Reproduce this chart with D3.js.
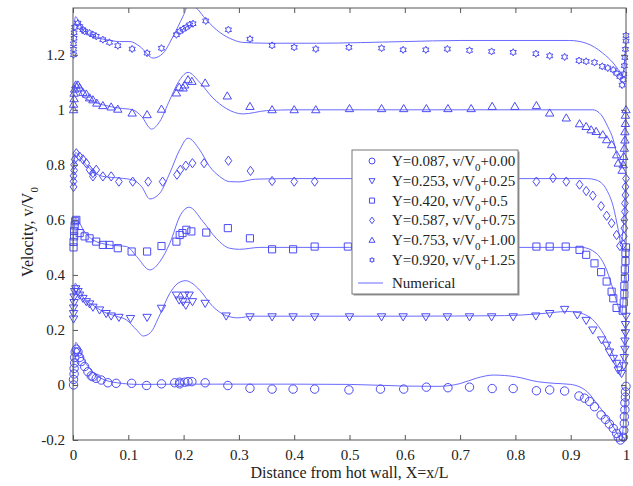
<!DOCTYPE html>
<html>
<head>
<meta charset="utf-8">
<title>Velocity profiles</title>
<style>
  body { margin: 0; background: #fff; }
  text { font-family: "Liberation Serif", "Times New Roman", serif; fill: #222; }
</style>
</head>
<body>
<div id="chart"></div>
<script src="https://d3js.org/d3.v7.min.js"></script>
<script>
// ---- data (values as plotted, offsets already included) ----
var xTicks = [0, 0.1, 0.2, 0.3, 0.4, 0.5, 0.6, 0.7, 0.8, 0.9, 1];
var xTickLabels = ["0", "0.1", "0.2", "0.3", "0.4", "0.5", "0.6", "0.7", "0.8", "0.9", "1"];
var yTicks = [-0.2, 0, 0.2, 0.4, 0.6, 0.8, 1, 1.2];
var yTickLabels = ["-0.2", "0", "0.2", "0.4", "0.6", "0.8", "1", "1.2"];

var stations = ["0.087", "0.253", "0.420", "0.587", "0.753", "0.920"];
var offsets = ["+0.00", "+0.25", "+0.5", "+0.75", "+1.00", "+1.25"];
var markers = ["circle", "triDown", "square", "diamond", "triUp", "hexagram"];

// experimental points
var exp087 = [[0.001,0.0],[0.001,0.02],[0.002,0.04],[0.002,0.06],[0.003,0.08],[0.003,0.1],[0.004,0.12],[0.006,0.13],
  [0.009,0.12],[0.012,0.10],[0.015,0.085],[0.021,0.067],[0.027,0.048],[0.033,0.033],[0.036,0.03],[0.042,0.024],
  [0.051,0.018],[0.063,0.008],[0.078,0.006],[0.106,0.006],[0.133,-0.002],[0.16,0.004],[0.184,0.008],[0.193,0.004],
  [0.193,0.01],[0.202,0.01],[0.208,0.012],[0.215,0.012],[0.239,0.008],[0.28,-0.002],[0.32,-0.012],[0.36,-0.015],
  [0.398,-0.015],[0.437,-0.015],[0.499,-0.018],[0.556,-0.015],[0.598,-0.015],[0.639,-0.008],[0.678,-0.01],
  [0.717,-0.008],[0.758,-0.013],[0.796,-0.013],[0.838,-0.021],[0.862,-0.018],[0.889,-0.022],[0.915,-0.04],
  [0.925,-0.048],[0.934,-0.06],[0.943,-0.079],[0.955,-0.109],[0.963,-0.125],[0.97,-0.142],[0.977,-0.158],
  [0.983,-0.176],[0.986,-0.19],[0.99,-0.2],[0.995,-0.19],[0.996,-0.165],[0.997,-0.14],[0.997,-0.115],
  [0.998,-0.09],[0.998,-0.065],[0.999,-0.044],[0.999,-0.025],[1,-0.005]];
var exp253 = [[0.001,0.24],[0.001,0.26],[0.001,0.28],[0.002,0.30],[0.002,0.32],[0.003,0.34],[0.005,0.35],
  [0.009,0.34],[0.012,0.327],[0.018,0.315],[0.024,0.303],[0.03,0.295],[0.036,0.283],[0.048,0.273],[0.06,0.26],
  [0.069,0.251],[0.083,0.246],[0.104,0.242],[0.134,0.246],[0.16,0.279],[0.187,0.327],[0.192,0.309],[0.199,0.303],
  [0.202,0.327],[0.204,0.29],[0.21,0.327],[0.216,0.303],[0.239,0.297],[0.277,0.251],[0.32,0.248],[0.36,0.248],
  [0.398,0.248],[0.437,0.248],[0.5,0.248],[0.558,0.248],[0.597,0.248],[0.638,0.248],[0.677,0.248],[0.717,0.248],
  [0.757,0.248],[0.796,0.248],[0.837,0.251],[0.862,0.26],[0.889,0.275],[0.912,0.255],[0.928,0.235],[0.94,0.2],
  [0.956,0.164],[0.965,0.145],[0.97,0.12],[0.977,0.097],[0.983,0.079],[0.986,0.055],[0.992,0.042],
  [0.996,0.07],[0.997,0.1],[0.998,0.13],[0.998,0.16],[0.999,0.19],[0.999,0.22],[1,0.25]];
var exp420 = [[0.001,0.5],[0.001,0.52],[0.002,0.54],[0.002,0.56],[0.003,0.58],[0.004,0.595],[0.006,0.6],
  [0.012,0.552],[0.021,0.54],[0.03,0.533],[0.042,0.521],[0.054,0.509],[0.066,0.509],[0.081,0.497],[0.106,0.485],
  [0.134,0.485],[0.16,0.505],[0.187,0.521],[0.193,0.545],[0.198,0.552],[0.205,0.564],[0.214,0.558],[0.241,0.554],
  [0.28,0.57],[0.32,0.533],[0.36,0.493],[0.398,0.493],[0.437,0.503],[0.497,0.503],[0.838,0.503],[0.862,0.503],
  [0.891,0.503],[0.916,0.491],[0.928,0.473],[0.943,0.442],[0.955,0.41],[0.965,0.376],[0.974,0.339],[0.977,0.315],
  [0.983,0.28],[0.994,0.27],[0.996,0.3],[0.997,0.33],[0.997,0.36],[0.998,0.39],[0.998,0.42],[0.999,0.45],
  [0.999,0.48],[1,0.5]];
var exp587 = [[0.001,0.72],[0.001,0.74],[0.001,0.76],[0.002,0.78],[0.002,0.8],[0.003,0.82],[0.006,0.842],
  [0.012,0.83],[0.018,0.82],[0.024,0.806],[0.03,0.782],[0.036,0.77],[0.042,0.782],[0.036,0.758],[0.054,0.758],
  [0.069,0.758],[0.083,0.739],[0.108,0.739],[0.136,0.739],[0.162,0.739],[0.188,0.764],[0.194,0.782],[0.204,0.797],
  [0.216,0.806],[0.237,0.806],[0.281,0.815],[0.321,0.778],[0.36,0.741],[0.4,0.739],[0.437,0.739],[0.838,0.739],
  [0.868,0.752],[0.892,0.739],[0.916,0.728],[0.928,0.705],[0.94,0.688],[0.955,0.65],[0.965,0.615],[0.974,0.588],
  [0.983,0.545],[0.989,0.505],[0.995,0.51],[0.996,0.54],[0.997,0.57],[0.997,0.6],[0.998,0.63],[0.998,0.66],
  [0.999,0.69],[0.999,0.72],[1,0.75]];
var exp753 = [[0.001,1.0],[0.001,1.02],[0.002,1.04],[0.002,1.06],[0.003,1.075],[0.005,1.09],[0.009,1.09],
  [0.012,1.079],[0.018,1.063],[0.024,1.057],[0.03,1.043],[0.036,1.036],[0.043,1.024],[0.054,1.015],[0.069,1.01],
  [0.081,1.002],[0.107,0.988],[0.134,0.982],[0.16,1.002],[0.187,1.061],[0.192,1.082],[0.199,1.079],[0.202,1.09],
  [0.208,1.109],[0.215,1.103],[0.239,1.097],[0.279,1.05],[0.32,1.012],[0.36,1.0],[0.4,1.0],[0.439,1.0],
  [0.5,1.004],[0.558,1.004],[0.598,1.004],[0.639,1.004],[0.678,1.004],[0.72,1.004],[0.758,1.012],[0.799,1.012],
  [0.838,1.015],[0.862,0.988],[0.892,0.97],[0.916,0.949],[0.928,0.939],[0.937,0.927],[0.946,0.921],[0.958,0.909],
  [0.965,0.891],[0.974,0.873],[0.983,0.836],[0.986,0.806],[0.993,0.78],[0.995,0.8],[0.996,0.83],[0.997,0.86],
  [0.998,0.89],[0.998,0.92],[0.999,0.95],[0.999,0.98],[1,1.0]];
var exp920 = [[0.001,1.2],[0.001,1.22],[0.001,1.24],[0.002,1.26],[0.002,1.28],[0.003,1.3],[0.009,1.315],
  [0.012,1.303],[0.018,1.291],[0.021,1.285],[0.03,1.279],[0.036,1.273],[0.042,1.267],[0.054,1.255],[0.066,1.245],
  [0.081,1.233],[0.107,1.221],[0.134,1.206],[0.16,1.224],[0.187,1.273],[0.193,1.285],[0.199,1.293],[0.205,1.3],
  [0.211,1.309],[0.217,1.313],[0.24,1.323],[0.281,1.291],[0.32,1.257],[0.36,1.234],[0.4,1.227],[0.439,1.221],
  [0.499,1.227],[0.558,1.224],[0.597,1.218],[0.638,1.218],[0.677,1.221],[0.717,1.216],[0.757,1.212],[0.796,1.209],
  [0.837,1.204],[0.862,1.196],[0.889,1.192],[0.915,1.179],[0.928,1.176],[0.943,1.172],[0.957,1.158],[0.967,1.152],
  [0.977,1.145],[0.983,1.133],[0.989,1.121],[0.993,1.09],[0.995,1.11],[0.996,1.13],[0.997,1.16],[0.998,1.19],
  [0.999,1.22],[1,1.25],[1,1.27]];

// numerical solution
var num087 = [[0,0],[0.002,0.1],[0.005,0.155],[0.01,0.14],[0.02,0.09],[0.03,0.06],[0.05,0.025],[0.08,0.008],
  [0.12,0.002],[0.2,0.003],[0.3,0.003],[0.4,0.003],[0.5,0.002],[0.6,-0.004],[0.66,-0.005],[0.7,0.005],
  [0.73,0.025],[0.76,0.036],[0.8,0.03],[0.84,0.012],[0.87,0.006],[0.9,0.002],[0.93,-0.025],[0.95,-0.075],
  [0.97,-0.128],[0.985,-0.18],[0.992,-0.205],[0.996,-0.12],[1,0]];
var num253 = [[0,0.25],[0.002,0.33],[0.004,0.37],[0.008,0.36],[0.018,0.32],[0.036,0.29],[0.054,0.267],
  [0.078,0.25],[0.097,0.236],[0.115,0.2],[0.127,0.178],[0.14,0.19],[0.157,0.255],[0.175,0.333],[0.19,0.37],
  [0.204,0.379],[0.215,0.37],[0.229,0.345],[0.253,0.285],[0.277,0.252],[0.298,0.244],[0.325,0.25],[0.4,0.25],
  [0.6,0.25],[0.78,0.252],[0.84,0.258],[0.895,0.267],[0.92,0.26],[0.946,0.224],[0.965,0.164],[0.98,0.09],
  [0.989,0.036],[0.995,0.1],[1,0.25]];
var num420 = [[0,0.5],[0.002,0.57],[0.004,0.605],[0.008,0.6],[0.02,0.56],[0.036,0.527],[0.066,0.509],
  [0.097,0.503],[0.115,0.467],[0.139,0.418],[0.157,0.448],[0.175,0.515],[0.195,0.62],[0.21,0.646],[0.235,0.594],
  [0.259,0.533],[0.283,0.497],[0.301,0.493],[0.338,0.5],[0.5,0.5],[0.92,0.5],[0.946,0.479],[0.965,0.418],
  [0.977,0.345],[0.986,0.285],[0.992,0.26],[0.996,0.35],[1,0.5]];
var num587 = [[0,0.75],[0.002,0.81],[0.005,0.845],[0.01,0.835],[0.024,0.8],[0.036,0.776],[0.054,0.758],
  [0.084,0.752],[0.108,0.745],[0.124,0.721],[0.139,0.676],[0.157,0.697],[0.175,0.77],[0.193,0.855],[0.208,0.897],
  [0.229,0.855],[0.247,0.794],[0.265,0.758],[0.283,0.739],[0.3,0.738],[0.33,0.748],[0.4,0.75],[0.93,0.75],
  [0.946,0.745],[0.965,0.709],[0.977,0.648],[0.986,0.564],[0.991,0.515],[0.996,0.6],[1,0.75]];
var num753 = [[0,1.0],[0.002,1.07],[0.005,1.097],[0.01,1.085],[0.018,1.048],[0.036,1.03],[0.054,1.018],
  [0.084,1.006],[0.108,1.0],[0.124,0.976],[0.142,0.93],[0.157,0.958],[0.175,1.036],[0.193,1.109],[0.208,1.136],
  [0.229,1.1],[0.253,1.043],[0.277,1.005],[0.307,0.985],[0.35,0.997],[0.4,1.0],[0.94,1.0],[0.955,0.982],
  [0.967,0.939],[0.977,0.891],[0.983,0.842],[0.989,0.806],[0.993,0.79],[0.997,0.88],[1,1.0]];
var num920 = [[0,1.25],[0.002,1.31],[0.005,1.339],[0.01,1.32],[0.018,1.291],[0.036,1.267],[0.06,1.255],
  [0.084,1.248],[0.103,1.248],[0.121,1.23],[0.145,1.188],[0.163,1.206],[0.181,1.267],[0.199,1.34],[0.21,1.385],
  [0.222,1.372],[0.241,1.327],[0.265,1.282],[0.289,1.255],[0.307,1.245],[0.35,1.242],[0.44,1.242],[0.6,1.248],
  [0.7,1.252],[0.898,1.252],[0.928,1.242],[0.958,1.206],[0.977,1.17],[0.989,1.139],[0.994,1.13],[0.998,1.19],[1,1.25]];

var expSeries = [exp087, exp253, exp420, exp587, exp753, exp920];
var numSeries = [num087, num253, num420, num587, num753, num920];

// ---- layout ----
var W = 633, H = 486;
var margin = {top: 8, right: 7, bottom: 46, left: 73};
var width = W - margin.left - margin.right,
    height = H - margin.top - margin.bottom;
var blue = "#4b4bf5", lineBlue = "#6a6aff", axisColor = "#555";

var x = d3.scaleLinear().domain([0, 1]).range([0, width]);
var y = d3.scaleLinear().domain([-0.2, 1.37]).range([height, 0]);

var svg = d3.select("#chart").append("svg")
    .attr("width", W).attr("height", H);
var g = svg.append("g")
    .attr("transform", "translate(" + margin.left + "," + margin.top + ")");

g.append("clipPath").attr("id", "clip")
  .append("rect").attr("width", width).attr("height", height);

// marker shapes, r = half size
function markerPath(type, r) {
  var p = d3.path();
  if (type == "circle") {
    p.moveTo(r, 0); p.arc(0, 0, r, 0, 2 * Math.PI);
  } else if (type == "triDown") {
    p.moveTo(-r, -r * 0.7); p.lineTo(r, -r * 0.7); p.lineTo(0, r); p.closePath();
  } else if (type == "triUp") {
    p.moveTo(-r, r * 0.7); p.lineTo(r, r * 0.7); p.lineTo(0, -r); p.closePath();
  } else if (type == "square") {
    var s = r * 0.85;
    p.rect(-s, -s, 2 * s, 2 * s);
  } else if (type == "diamond") {
    p.moveTo(0, -r * 1.1); p.lineTo(r * 0.8, 0); p.lineTo(0, r * 1.1); p.lineTo(-r * 0.8, 0); p.closePath();
  } else if (type == "hexagram") {
    var R = r * 0.85, ri = R / Math.sqrt(3);
    for (var k = 0; k < 12; k++) {
      var a = -Math.PI / 2 + k * Math.PI / 6;
      var rr = k % 2 == 0 ? R : ri;
      if (k == 0) p.moveTo(rr * Math.cos(a), rr * Math.sin(a));
      else p.lineTo(rr * Math.cos(a), rr * Math.sin(a));
    }
    p.closePath();
  }
  return p.toString();
}

// numerical lines
var line = d3.line()
    .x(function(d) { return x(d[0]); })
    .y(function(d) { return y(d[1]); })
    .curve(d3.curveMonotoneX);

g.append("g").attr("clip-path", "url(#clip)")
  .selectAll("path").data(numSeries).enter().append("path")
    .attr("d", line)
    .attr("fill", "none")
    .attr("stroke", lineBlue)
    .attr("stroke-width", 1);

// experimental markers
expSeries.forEach(function(ser, i) {
  g.append("g").selectAll("path").data(ser).enter().append("path")
    .attr("transform", function(d) { return "translate(" + x(d[0]) + "," + y(d[1]) + ")"; })
    .attr("d", markerPath(markers[i], 4.2))
    .attr("fill", "none")
    .attr("stroke", blue)
    .attr("stroke-width", 1);
});

// axes box with inward ticks on all sides
g.append("rect").attr("width", width).attr("height", height)
  .attr("fill", "none").attr("stroke", axisColor).attr("stroke-width", 1);

var tickLen = 5;
var xb = g.append("g").attr("transform", "translate(0," + height + ")")
  .call(d3.axisBottom(x).tickValues(xTicks).tickSize(-tickLen).tickPadding(9)
    .tickFormat(function(d, i) { return xTickLabels[i]; }));
var xt = g.append("g")
  .call(d3.axisTop(x).tickValues(xTicks).tickSize(-tickLen).tickFormat(""));
var yl = g.append("g")
  .call(d3.axisLeft(y).tickValues(yTicks).tickSize(-tickLen).tickPadding(8)
    .tickFormat(function(d, i) { return yTickLabels[i]; }));
var yr = g.append("g").attr("transform", "translate(" + width + ",0)")
  .call(d3.axisRight(y).tickValues(yTicks).tickSize(-tickLen).tickFormat(""));

[xb, xt, yl, yr].forEach(function(a) {
  a.select(".domain").remove();
  a.selectAll(".tick line").attr("stroke", axisColor);
  a.selectAll(".tick text").attr("font-size", 15)
    .attr("font-family", "Liberation Serif, Times New Roman, serif").attr("fill", "#222");
});

// axis labels
svg.append("text")
  .attr("x", margin.left + width / 2).attr("y", 478)
  .attr("text-anchor", "middle").attr("font-size", 16)
  .text("Distance from hot wall, X=x/L");

var ylab = svg.append("text")
  .attr("transform", "translate(33,232) rotate(-90)")
  .attr("text-anchor", "middle").attr("font-size", 16);
ylab.append("tspan").text("Velocity, v/V");
ylab.append("tspan").attr("font-size", 11).attr("dy", 5).text("0");

// legend
var lg = svg.append("g").attr("transform", "translate(352,150)");
lg.append("rect").attr("x", 1.5).attr("y", 1.5).attr("width", 166).attr("height", 144)
  .attr("fill", "#999");
lg.append("rect").attr("width", 166).attr("height", 144)
  .attr("fill", "#fff").attr("stroke", "#777").attr("stroke-width", 1);

stations.forEach(function(s, i) {
  var yy = 11 + i * 19.8;
  lg.append("path")
    .attr("transform", "translate(20," + yy + ")")
    .attr("d", markerPath(markers[i], 3))
    .attr("fill", "none").attr("stroke", blue);
  var t = lg.append("text").attr("x", 40).attr("y", yy + 5).attr("font-size", 15);
  t.append("tspan").text("Y=" + s + ", v/V");
  t.append("tspan").attr("font-size", 11).attr("dy", 5).text("0");
  t.append("tspan").attr("dy", -5).text(offsets[i]);
});
lg.append("line").attr("x1", 6).attr("x2", 31).attr("y1", 133).attr("y2", 133)
  .attr("stroke", lineBlue);
lg.append("text").attr("x", 40).attr("y", 138).attr("font-size", 15).text("Numerical");
</script>
</body>
</html>
